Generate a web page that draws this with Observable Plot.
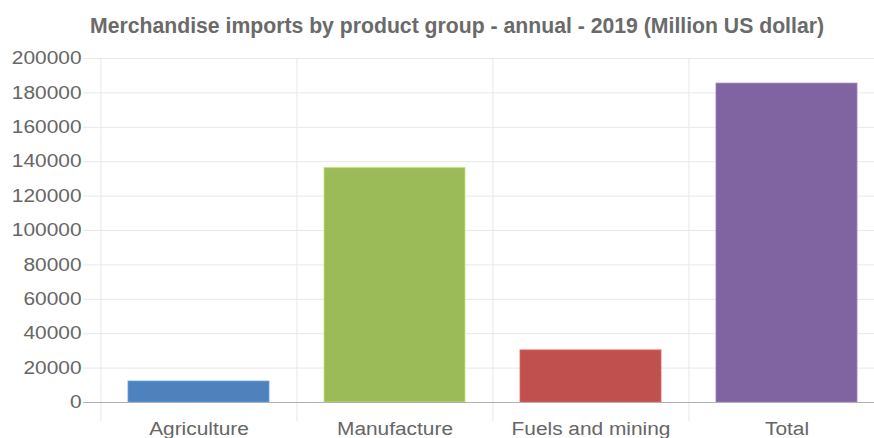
<!DOCTYPE html>
<html>
<head>
<meta charset="utf-8">
<script src="https://cdn.jsdelivr.net/npm/d3@7"></script>
<script src="https://cdn.jsdelivr.net/npm/@observablehq/plot@0.6"></script>
<style>
  html, body { margin: 0; padding: 0; background: #fff; overflow: hidden; }
  #wrap { position: relative; width: 874px; height: 438px; font-family: "Liberation Sans", Arial, sans-serif; }
  #title { position: relative; height: 45px; }
  #title span { position: absolute; left: 457px; top: 15px; white-space: nowrap; font-weight: bold; font-size: 22px; line-height: 22px; color: #6a6a6a; transform-origin: center; }
  svg { overflow: hidden; }
</style>
</head>
<body>
<div id="wrap">
  <div id="title"><span id="tt"></span></div>
  <div id="chart"></div>
</div>
<script>
const titleText = "Merchandise imports by product group - annual - 2019 (Million US dollar)";
const categories = ["Agriculture", "Manufacture", "Fuels and mining", "Total"];
const values = [12200, 136300, 30300, 185400];
const colors = ["#4f81bd", "#9bbb59", "#c0504d", "#8064a2"];
const yTicks = [0, 20000, 40000, 60000, 80000, 100000, 120000, 140000, 160000, 180000, 200000];

const data = categories.map((c, i) => ({category: c, value: values[i], color: colors[i]}));

const W = 874, H = 393, mL = 100, mR = -11, mT = 13, mB = 36;
const step = (W - mL - mR) / categories.length;
const gridColor = "#e8e8e8";

const chart = Plot.plot({
  width: W,
  height: H,
  marginLeft: mL,
  marginRight: mR,
  marginTop: mT,
  marginBottom: mB,
  style: {fontFamily: "'Liberation Sans', Arial, sans-serif", fontSize: "18px", color: "#666", background: "#fff", overflow: "hidden"},
  x: {domain: categories, paddingInner: 0.28, paddingOuter: 0.14, label: null},
  y: {domain: [0, 200000], label: null},
  marks: [
    Plot.gridY(yTicks, {stroke: gridColor, strokeOpacity: 1, insetLeft: -17}),
    Plot.ruleX(categories, {x: d => d, dx: -step / 2, stroke: gridColor, insetBottom: -19}),
    Plot.barY(data, {x: "category", y: "value", fill: "color",
      stroke: d => d3.color(d.color).brighter(0.6).formatHex(), strokeWidth: 1, strokeOpacity: 0.8}),
    Plot.ruleY([0], {stroke: "#b0b0b0", insetLeft: -17}),
    Plot.axisY({ticks: yTicks, tickSize: 0, tickPadding: 19, tickFormat: d3.format("d"), fill: "#666"}),
    Plot.axisX({tickSize: 0, tickPadding: 20, fill: "#666"})
  ]
});
document.getElementById("chart").appendChild(chart);

// stretch tick label text horizontally to match the reference proportions
chart.querySelectorAll('[aria-label="y-axis tick label"] text, [aria-label="x-axis tick label"] text').forEach(el => {
  const t = el.getAttribute("transform");
  if (t) el.setAttribute("transform", t + " scale(1.16,1)");
});

const tt = document.getElementById("tt");
tt.textContent = titleText;
const w = tt.getBoundingClientRect().width;
tt.style.transform = `translateX(-50%) scaleX(${734 / w})`;
</script>
</body>
</html>
